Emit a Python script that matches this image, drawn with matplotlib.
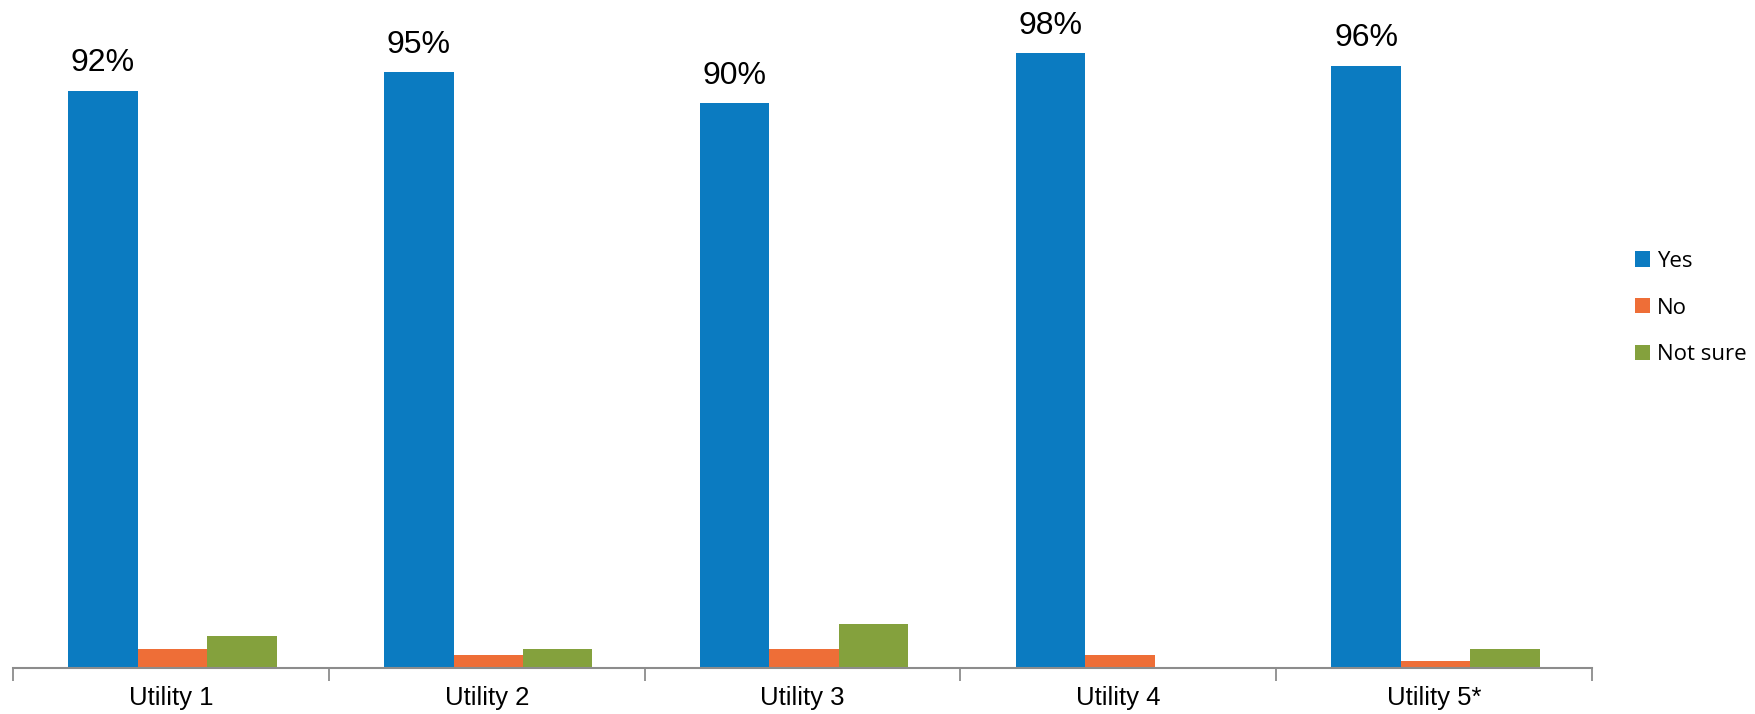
import matplotlib
matplotlib.use("Agg")
import matplotlib.pyplot as plt
from matplotlib.patches import Patch
import numpy as np

categories = ["Utility 1", "Utility 2", "Utility 3", "Utility 4", "Utility 5*"]
yes = [92, 95, 90, 98, 96]
no = [3, 2, 3, 2, 1]
not_sure = [5, 3, 7, 0, 3]
series_names = ["Yes", "No", "Not sure"]
colors = ["#0B7BC1", "#EE6E37", "#84A13D"]

label_font = ["Liberation Sans", "DejaVu Sans"]
legend_font = ["Open Sans", "DejaVu Sans"]

fig = plt.figure(figsize=(17.56, 7.14), dpi=100)
ax = fig.add_axes([13 / 1756, 46.5 / 714, (1592 - 13) / 1756, 667.5 / 714])

x = np.arange(len(categories))
width = 0.22
offsets = [-width, 0, width]
for vals, off, col in zip([yes, no, not_sure], offsets, colors):
    ax.bar(x + off + 0.005, vals, width=width, color=col, linewidth=0, zorder=2)

for xi, v in zip(x, yes):
    ax.annotate(f"{v}%", (xi - width + 0.005, v), xytext=(0, 9), textcoords="offset points",
                ha="center", va="bottom", fontsize=23, family=label_font,
                annotation_clip=False)

ax.set_xlim(-0.5, len(categories) - 0.5)
ax.set_ylim(0, 106.5)

for s in ["top", "right", "left"]:
    ax.spines[s].set_visible(False)
ax.spines["bottom"].set_color("#8C8C8C")
ax.spines["bottom"].set_linewidth(1.5)
ax.set_yticks([])

# category boundaries as major ticks, names as minor-tick labels
ax.set_xticks(np.arange(len(categories) + 1) - 0.5)
ax.set_xticklabels([])
ax.tick_params(axis="x", direction="out", length=9, width=1.3, color="#8C8C8C")
ax.set_xticks(x, minor=True)
ax.set_xticklabels(categories, minor=True, fontsize=18.5, family=label_font)
ax.tick_params(axis="x", which="minor", length=0, pad=13)

handles = [Patch(facecolor=c, edgecolor="none") for c in colors]
fig.legend(handles, series_names, loc="center left", bbox_to_anchor=(1635 / 1756, 406 / 714),
           frameon=False, borderpad=0, borderaxespad=0,
           prop={"family": legend_font, "size": 16},
           handlelength=0.68, handleheight=0.68, handletextpad=0.32, labelspacing=1.16)

fig.savefig("out.png", dpi=100)
